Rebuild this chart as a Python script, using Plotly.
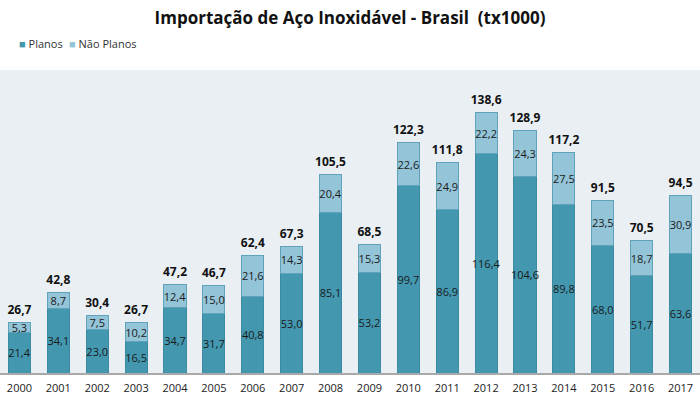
import plotly.graph_objects as go

years = [str(y) for y in range(2000, 2018)]
planos = [21.4, 34.1, 23.0, 16.5, 34.7, 31.7, 40.8, 53.0, 85.1, 53.2, 99.7, 86.9, 116.4, 104.6, 89.8, 68.0, 51.7, 63.6]
nao_planos = [5.3, 8.7, 7.5, 10.2, 12.4, 15.0, 21.6, 14.3, 20.4, 15.3, 22.6, 24.9, 22.2, 24.3, 27.5, 23.5, 18.7, 30.9]
totais = [26.7, 42.8, 30.4, 26.7, 47.2, 46.7, 62.4, 67.3, 105.5, 68.5, 122.3, 111.8, 138.6, 128.9, 117.2, 91.5, 70.5, 94.5]

def fmt(v):
    return f"{v:.1f}".replace(".", ",")

FONT = "Open Sans"
C_PLANOS = "#4398b0"
C_NAO = "#94c4d7"

fig = go.Figure()
fig.add_trace(go.Bar(
    x=years, y=planos, name="Planos", showlegend=False,
    marker=dict(color=C_PLANOS, line=dict(color="#3a8aa2", width=1)),
    text=[fmt(v) for v in planos], textposition="inside", insidetextanchor="middle",
    textangle=0, constraintext="none",
    textfont=dict(size=11, color="#1a1a1a", family=FONT),
))
fig.add_trace(go.Bar(
    x=years, y=nao_planos, name="Não Planos", showlegend=False,
    marker=dict(color=C_NAO, line=dict(color="#5fa3bb", width=1)),
    text=[fmt(v) for v in nao_planos], textposition="inside", insidetextanchor="middle",
    textangle=0, constraintext="none",
    textfont=dict(size=11, color="#1a1a1a", family=FONT),
))
fig.add_trace(go.Scatter(
    x=years, y=totais, mode="markers+text", showlegend=False,
    marker=dict(size=7, color="rgba(0,0,0,0)"),
    text=[f"<b>{fmt(v)}</b>" for v in totais], textposition="top center",
    textfont=dict(size=12, color="#111111", family=FONT),
    hoverinfo="skip",
))

fig.update_layout(
    width=700, height=400,
    barmode="stack", bargap=0.43,
    hovermode=False,
    paper_bgcolor="white", plot_bgcolor="#e9eff3",
    margin=dict(l=0, r=0, t=70, b=27),
    title=dict(text="<b>Importação de Aço Inoxidável - Brasil  (tx1000)</b>",
               x=0.5, xanchor="center", y=0.955, yref="container", yanchor="middle",
               font=dict(size=17, color="#111111", family=FONT)),
    showlegend=False,
    uniformtext=dict(minsize=10, mode="show"),
    font=dict(family=FONT),
    xaxis=dict(showline=True, linecolor="#a9a9a9", linewidth=2, ticks="",
               ticklabelstandoff=4,
               tickfont=dict(size=11, color="#222222", family=FONT), range=[-0.5, 17.5]),
    yaxis=dict(visible=False, range=[0, 161], showgrid=False),
    annotations=[
        dict(xref="paper", yref="paper", x=0.024, y=1.086, xanchor="left", yanchor="middle",
             showarrow=False, font=dict(size=11, color="#333333", family=FONT),
             text=f"<span style='color:{C_PLANOS}'>■</span> Planos"),
        dict(xref="paper", yref="paper", x=0.096, y=1.086, xanchor="left", yanchor="middle",
             showarrow=False, font=dict(size=11, color="#333333", family=FONT),
             text=f"<span style='color:{C_NAO}'>■</span> Não Planos"),
    ],
)

fig.write_html("out.html", config={"displayModeBar": False},
               post_script="document.body.style.margin='0';")
